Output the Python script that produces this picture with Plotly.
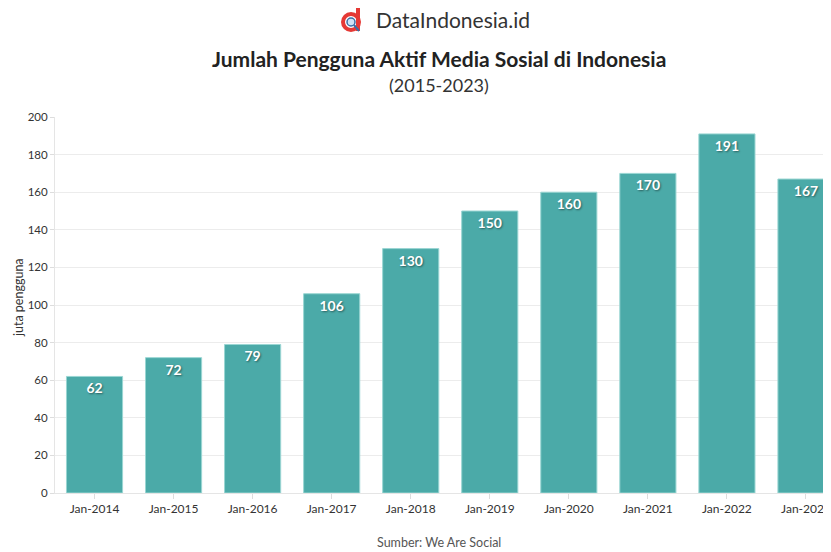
import plotly.graph_objects as go

categories = ["Jan-2014", "Jan-2015", "Jan-2016", "Jan-2017", "Jan-2018",
              "Jan-2019", "Jan-2020", "Jan-2021", "Jan-2022", "Jan-2023"]
values = [62, 72, 79, 106, 130, 150, 160, 170, 191, 167]
y_ticks = [0, 20, 40, 60, 80, 100, 120, 140, 160, 180, 200]

# page body offset (browser default margin)
OFF = 8
L, T, B, R = 55 - OFF, 117 - OFF, 552 - (493 - OFF), 0
W, H = 831, 552
PW = W - L - R
PH = H - T - B

def px(sx, sy):
    return (sx - OFF - L) / PW, ((H - B) - (sy - OFF)) / PH

fig = go.Figure()
fig.add_trace(go.Bar(
    x=categories, y=values, width=0.71,
    marker=dict(color="#4BAAA8", line=dict(color="#9ad6d3", width=1)),
    text=[str(v) for v in values], textposition="inside", insidetextanchor="end",
    textfont=dict(family="Lato", size=14, color="white", weight="bold",
                  shadow="1px 1px 2px rgba(0,0,0,0.45)"),
    textangle=0,
))

xr_end = (W + OFF - 55.5) / 79 - 0.5

fig.update_layout(
    width=W, height=H,
    margin=dict(l=L, r=R, t=T, b=B, autoexpand=False),
    paper_bgcolor="white", plot_bgcolor="white",
    showlegend=False,
    font=dict(family="Lato", color="#333"),
    xaxis=dict(range=[-0.5, xr_end], showgrid=False, ticks="outside", ticklen=5,
               tickcolor="#ddd", showline=True, linecolor="#e5e5e5", automargin=False,
               tickfont=dict(size=12, color="#333")),
    yaxis=dict(range=[0, 200], tickvals=y_ticks, showgrid=True, gridcolor="#ececec",
               showline=True, linecolor="#e5e5e5", ticks="outside", ticklen=4,
               tickcolor="#ddd", zeroline=False, automargin=False,
               tickfont=dict(size=11.5, color="#333")),
)

anns = [
    dict(x=453, y=20, text="DataIndonesia.id", size=21, color="#333", angle=0),
    dict(x=439, y=58, text="<b>Jumlah Pengguna Aktif Media Sosial di Indonesia</b>", size=21, color="#222", angle=0),
    dict(x=439, y=85, text="(2015-2023)", size=18, color="#333", angle=0),
    dict(x=439, y=542, text="Sumber: We Are Social", size=12.5, color="#555", angle=0),
    dict(x=18, y=298, text="juta pengguna", size=12.5, color="#333", angle=-90),
]
for a in anns:
    ax, ay = px(a["x"], a["y"])
    fig.add_annotation(x=ax, y=ay, xref="paper", yref="paper",
                       xanchor="center", yanchor="middle", text=a["text"], showarrow=False,
                       textangle=a["angle"],
                       font=dict(family="Lato", size=a["size"], color=a["color"]))

# logo icon
x0, y0 = px(343, 14); x1, y1 = px(359, 30)
fig.add_shape(type="circle", xref="paper", yref="paper", x0=x0, y0=y1, x1=x1, y1=y0,
              line=dict(color="#e53935", width=4))
xa, ya = px(358, 8); xb, yb = px(358, 31)
fig.add_shape(type="line", xref="paper", yref="paper", x0=xa, y0=ya, x1=xb, y1=yb,
              line=dict(color="#e53935", width=4))
xc, yc = px(347, 18); xd, yd = px(355, 26)
fig.add_shape(type="circle", xref="paper", yref="paper", x0=xc, y0=yd, x1=xd, y1=yc,
              line=dict(color="#3a6ea5", width=1.5), fillcolor="#cfe3f5")
xe, ye = px(354, 25); xf, yf = px(359, 31)
fig.add_shape(type="line", xref="paper", yref="paper", x0=xe, y0=ye, x1=xf, y1=yf,
              line=dict(color="#3a6ea5", width=2))

fig.write_html("out.html")
